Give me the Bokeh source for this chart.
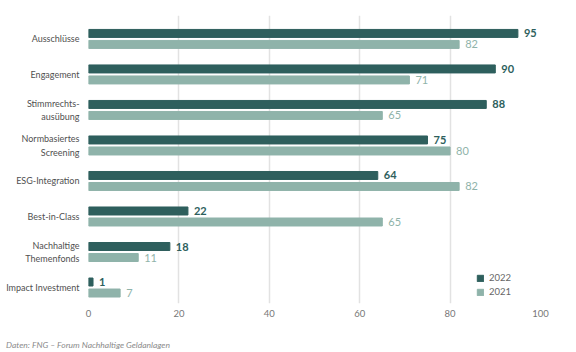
from bokeh.plotting import figure
from bokeh.models import Range1d, FixedTicker, ColumnDataSource, Legend, LegendItem, Div
from bokeh.layouts import column
from bokeh.core.properties import value
from bokeh.embed import file_html
from bokeh.resources import INLINE

categories = ["Ausschlüsse", "Engagement", "Stimmrechts-\nausübung", "Normbasiertes\nScreening",
              "ESG-Integration", "Best-in-Class", "Nachhaltige\nThemenfonds", "Impact Investment"]
v2022 = [95, 90, 88, 75, 64, 22, 18, 1]
v2021 = [82, 71, 65, 80, 82, 65, 11, 7]
x_ticks = [0, 20, 40, 60, 80, 100]
source_text = "Daten: FNG – Forum Nachhaltige Geldanlagen"

DARK = "#2e5f5d"
LIGHT = "#8fb3aa"
FONT = "Lato"

idx = list(range(len(categories)))
off = 0.155
src = ColumnDataSource(dict(
    y22=[i - off for i in idx], y21=[i + off for i in idx],
    v22=v2022, v21=v2021,
    t22=[str(v) for v in v2022], t21=[str(v) for v in v2021],
))

p = figure(width=576, height=338, output_backend="svg", toolbar_location=None,
           x_range=Range1d(0, 100), y_range=Range1d(7.45, -0.66),
           min_border_left=88, min_border_right=36, min_border_top=15, min_border_bottom=35)
p.outline_line_color = None
p.background_fill_color = "white"

r22 = p.hbar(y="y22", right="v22", left=0, height=0.225, source=src, fill_color=DARK, line_color=DARK)
r21 = p.hbar(y="y21", right="v21", left=0, height=0.225, source=src, fill_color=LIGHT, line_color=LIGHT)

p.text(x="v22", y="y22", text="t22", source=src, x_offset=6, text_baseline="middle",
       text_font=value(FONT), text_font_size="11px", text_font_style="bold", text_color=DARK)
p.text(x="v21", y="y21", text="t21", source=src, x_offset=6, text_baseline="middle",
       text_font=value(FONT), text_font_size="11px", text_color=LIGHT)

p.xaxis.ticker = FixedTicker(ticks=x_ticks)
p.xaxis.axis_line_color = None
p.xaxis.major_tick_line_color = None
p.xaxis.major_tick_out = 0
p.xaxis.major_tick_in = 0
p.xaxis.minor_tick_line_color = None
p.xaxis.major_label_text_font = FONT
p.xaxis.major_label_text_font_size = "9.5px"
p.xaxis.major_label_text_color = "#777777"
p.xaxis.major_label_standoff = 6

p.yaxis.ticker = FixedTicker(ticks=idx)
p.yaxis.major_label_overrides = {i: c for i, c in zip(idx, categories)}
p.yaxis.axis_line_color = None
p.yaxis.major_tick_line_color = None
p.yaxis.major_tick_out = 0
p.yaxis.major_tick_in = 0
p.yaxis.minor_tick_line_color = None
p.yaxis.major_label_text_font = FONT
p.yaxis.major_label_text_font_size = "9px"
p.yaxis.major_label_text_color = "#505050"
p.yaxis.major_label_standoff = 9

p.xgrid.grid_line_color = "#e2e2e2"
p.xgrid.grid_line_width = 1.5
p.ygrid.grid_line_color = None

legend = Legend(items=[LegendItem(label="2022", renderers=[r22]), LegendItem(label="2021", renderers=[r21])],
                location=(388, 6), orientation="vertical")
legend.label_text_font = FONT
legend.label_text_font_size = "9.5px"
legend.label_text_color = "#666666"
legend.glyph_width = 8
legend.glyph_height = 8
legend.spacing = 3
legend.padding = 2
legend.label_standoff = 5
legend.border_line_color = None
legend.background_fill_alpha = 0
p.add_layout(legend)

note = Div(text=source_text, width=560, height=14, margin=(0, 0, 0, 6),
           styles={"font-family": FONT, "font-size": "8.5px", "font-style": "italic",
                   "color": "#8a8a8a", "line-height": "14px"})

layout = column(p, note, spacing=0)
open("out.html", "w").write(file_html(layout, INLINE))
